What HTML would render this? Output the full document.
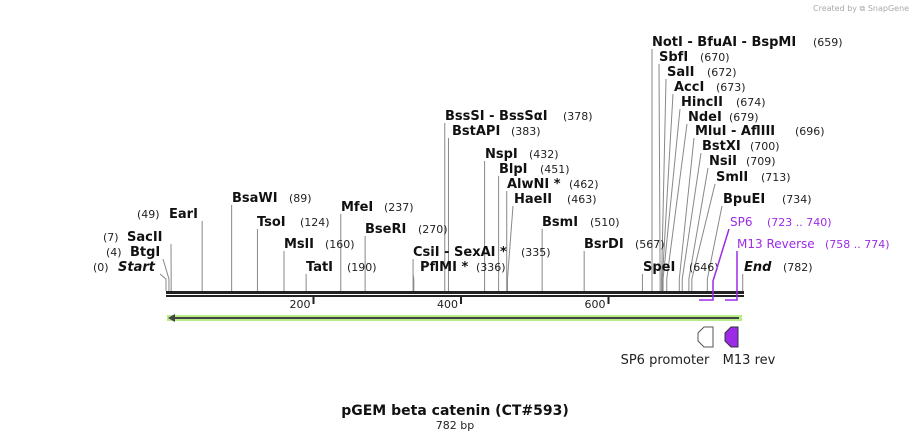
<!DOCTYPE html>
<html><head><meta charset="utf-8">
<style>
body{margin:0;background:#fff;}
svg{display:block;font-family:"DejaVu Sans","Liberation Sans",sans-serif;}
.n{font-weight:bold;font-size:13px;fill:#111;}
.p{font-size:11px;fill:#222;}
</style></head><body>
<svg id="map" width="911" height="441" viewBox="0 0 911 441" xmlns="http://www.w3.org/2000/svg">
<text x="813" y="11" font-size="8" fill="#aaa">Created by ⧉ SnapGene</text>
<g id="lines"></g>
<g id="labels"></g>
<rect x="166" y="291" width="578" height="3" fill="#222"/>
<rect x="166" y="295" width="578" height="2" fill="#222"/>
<g id="ticks"></g>
<rect x="167" y="315" width="575" height="6" fill="#b8ee88"/>
<line x1="172" y1="318" x2="739" y2="318" stroke="#444" stroke-width="2"/>
<path d="M168 318 L175 314 L175 322 Z" fill="#444"/>
<path d="M699 300 H713 V281 L729 229" fill="none" stroke="#9b2be6" stroke-width="1.5"/>
<path d="M725 300 H737 V251" fill="none" stroke="#9b2be6" stroke-width="1.5"/>
<path d="M713 327 V347 H704 L698 341 V333 L704 327 Z" fill="#fff" stroke="#555"/>
<path d="M738 327 V347 H731 L725 341 V333 L731 327 Z" fill="#9b2be6" stroke="#333"/>
<text x="665" y="364" text-anchor="middle" font-size="13" fill="#222">SP6 promoter</text>
<text x="749" y="364" text-anchor="middle" font-size="13" fill="#222">M13 rev</text>
<text x="455" y="415" text-anchor="middle" font-size="14" font-weight="bold" fill="#111">pGEM beta catenin (CT#593)</text>
<text x="455" y="429" text-anchor="middle" font-size="11" fill="#222">782 bp</text>
</svg>
<script>
const enzNames=["Start","BtgI","SacII","EarI","BsaWI","TsoI","MslI","TatI","MfeI","BseRI","CsiI  - SexAI *","PflMI *","BssSI  - BssSαI","BstAPI","NspI","BlpI","AlwNI *","HaeII","BsmI","BsrDI","SpeI","End","NotI  - BfuAI  - BspMI","SbfI","SalI","AccI","HincII","NdeI","MluI  - AflIII","BstXI","NsiI","SmlI","BpuEI","SP6","M13 Reverse"];
const enzPos=[0,4,7,49,89,124,160,190,237,270,335,336,378,383,432,451,462,463,510,567,646,782,659,670,672,673,674,679,696,700,709,713,734,723,758];
const posText=["(0)","(4)","(7)","(49)","(89)","(124)","(160)","(190)","(237)","(270)","(335)","(336)","(378)","(383)","(432)","(451)","(462)","(463)","(510)","(567)","(646)","(782)","(659)","(670)","(672)","(673)","(674)","(679)","(696)","(700)","(709)","(713)","(734)","(723 .. 740)","(758 .. 774)"];
const layout=[[118,93,267,160],[130,106,252,163],[127,103,237,171],[169,137,214,null],[232,289,198,null],[257,300,222,null],[284,325,244,null],[306,347,267,null],[341,384,207,null],[365,418,229,null],[413,521,252,null],[420,476,267,413],[445,563,116,null],[452,511,131,null],[485,529,154,null],[499,540,169,null],[507,569,184,null],[514,567,199,513],[542,590,222,null],[584,635,244,null],[643,689,267,null],[744,783,267,null],[652,813,42,652],[659,700,57,659],[667,707,72,666],[674,716,87,673],[681,736,102,680],[688,729,117,687],[695,795,131,694],[702,750,146,701],[709,746,161,708],[716,761,177,715],[723,782,199,722],[730,767,222,null],[737,825,244,null]];
const tickVals=[200,400,600];
const xs=bp=>166+0.7375*bp;
const NS="http://www.w3.org/2000/svg";
const L=document.getElementById('lines'),T=document.getElementById('labels'),K=document.getElementById('ticks');
enzNames.forEach((nm,i)=>{
  const [nx,px,cy,ax]=layout[i];
  const isFeat=i>=33;
  const cx=xs(enzPos[i]);
  if(!isFeat){
    const a=ax===null?cx:ax;
    const pl=document.createElementNS(NS,'polyline');
    pl.setAttribute('points',`${cx},291 ${cx},279 ${a},${cy+7}`);
    pl.setAttribute('fill','none');pl.setAttribute('stroke','#888');pl.setAttribute('stroke-width','1');
    
    
    L.appendChild(pl);
  }
  const t=document.createElementNS(NS,'text');
  t.setAttribute('x',nx);t.setAttribute('y',cy+4);
  t.setAttribute('class','n');
  if(isFeat){t.setAttribute('style','font-weight:normal;font-size:12px;fill:#9b2be6');}
  if(nm==='Start'||nm==='End')t.setAttribute('font-style','italic');
  t.textContent=nm;
  
  
  T.appendChild(t);
  const p=document.createElementNS(NS,'text');
  p.setAttribute('x',px);p.setAttribute('y',cy+4);p.setAttribute('class','p');
  if(isFeat)p.setAttribute('style','fill:#9b2be6');
  p.textContent=posText[i];
  
  
  T.appendChild(p);
});
tickVals.forEach(v=>{
  const x=xs(v);
  const r=document.createElementNS(NS,'rect');
  r.setAttribute('x',x-1);r.setAttribute('y',297);r.setAttribute('width',2);r.setAttribute('height',7);r.setAttribute('fill','#222');
  
  
  K.appendChild(r);
  const t=document.createElementNS(NS,'text');
  t.setAttribute('x',x-3);t.setAttribute('y',308);t.setAttribute('text-anchor','end');t.setAttribute('font-size','11');t.setAttribute('fill','#222');
  t.textContent=v;
  
  
  K.appendChild(t);
});
</script>
</body></html>
